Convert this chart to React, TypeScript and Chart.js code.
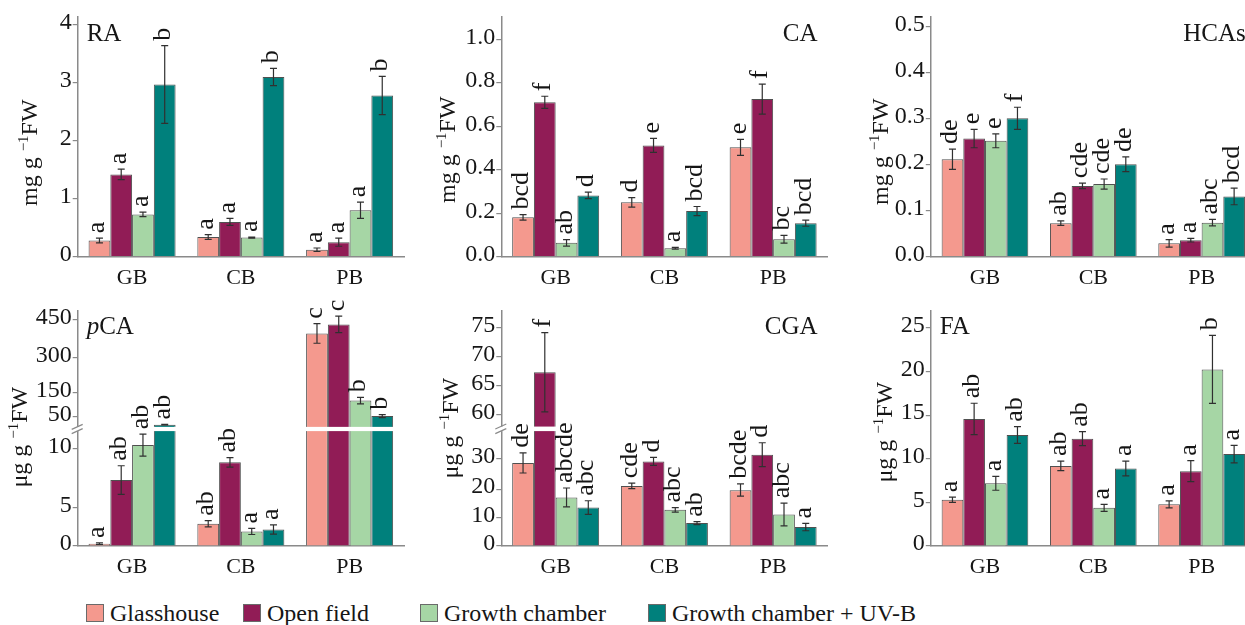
import React, { useEffect, useRef } from 'react';
import { Chart, registerables, LinearScale } from 'chart.js';

Chart.register(...registerables);

// Linear scale whose value->position mapping is piecewise linear (used for broken axes)
class BrokenLinearScale extends LinearScale {
  knots(): [number[], number[]] {
    const o: any = this.options;
    return [o.knotValues, o.knotFractions];
  }
  getPixelForValue(value: number) {
    if (value === null || value === undefined || isNaN(value)) return NaN;
    const [kv, kf] = this.knots();
    let i = 0;
    while (i < kv.length - 2 && value > kv[i + 1]) i++;
    const t = (value - kv[i]) / (kv[i + 1] - kv[i]);
    return this.getPixelForDecimal(kf[i] + t * (kf[i + 1] - kf[i]));
  }
  getValueForPixel(pixel: number) {
    const [kv, kf] = this.knots();
    const d = this.getDecimalForPixel(pixel);
    let i = 0;
    while (i < kf.length - 2 && d > kf[i + 1]) i++;
    const t = (d - kf[i]) / (kf[i + 1] - kf[i]);
    return kv[i] + t * (kv[i + 1] - kv[i]);
  }
}
(BrokenLinearScale as any).id = 'brokenLinear';
(BrokenLinearScale as any).defaults = {};
Chart.register(BrokenLinearScale as any);

const FONT = "'Liberation Serif', 'Times New Roman', Times, serif";
const AXIS = '#8a8a8a';
const INK = '#161616';

// ---------- data ----------
const categories = ['GB', 'CB', 'PB'];
const seriesNames = ['Glasshouse', 'Open field', 'Growth chamber', 'Growth chamber + UV-B'];
const seriesColors = ['#F4998E', '#911C56', '#A6D6A5', '#00807C'];

// RA (mg g-1 FW) — rows: Glasshouse, Open field, Growth chamber, Growth chamber + UV-B; columns: GB, CB, PB
const raMeans = [[0.28, 0.34, 0.12], [1.42, 0.60, 0.25], [0.73, 0.33, 0.80], [2.97, 3.10, 2.78]];
const raErrors = [[0.04, 0.04, 0.03], [0.09, 0.06, 0.07], [0.04, 0.01, 0.14], [0.67, 0.15, 0.33]];
const raLetters = [['a', 'a', 'a'], ['a', 'a', 'a'], ['a', 'a', 'a'], ['b', 'b', 'b']];
const raTicks = [0, 1, 2, 3, 4];

// CA (mg g-1 FW)
const caMeans = [[0.181, 0.25, 0.503], [0.71, 0.512, 0.725], [0.064, 0.039, 0.08], [0.282, 0.21, 0.154]];
const caErrors = [[0.013, 0.022, 0.037], [0.028, 0.032, 0.069], [0.015, 0.004, 0.018], [0.015, 0.021, 0.014]];
const caLetters = [['bcd', 'd', 'e'], ['f', 'e', 'f'], ['ab', 'a', 'bc'], ['d', 'bcd', 'bcd']];
const caTicks = [0, 0.2, 0.4, 0.6, 0.8, 1.0];

// HCAs (mg g-1 FW)
const hcaMeans = [[0.212, 0.073, 0.029], [0.257, 0.154, 0.036], [0.252, 0.158, 0.074], [0.301, 0.201, 0.131]];
const hcaErrors = [[0.022, 0.005, 0.008], [0.020, 0.006, 0.004], [0.015, 0.011, 0.007], [0.024, 0.016, 0.018]];
const hcaLetters = [['de', 'ab', 'a'], ['e', 'cde', 'a'], ['e', 'cde', 'abc'], ['f', 'de', 'bcd']];
const hcaTicks = [0, 0.1, 0.2, 0.3, 0.4, 0.5];

// pCA (µg g-1 FW)
const pcaMeans = [[0.3, 2.92, 395], [7.33, 8.82, 430], [10.28, 1.91, 118], [20, 2.17, 51]];
const pcaErrors = [[0.1, 0.4, 38], [1.2, 0.4, 32], [0.95, 0.4, 14], [1, 0.6, 6]];
const pcaLetters = [['a', 'ab', 'c'], ['ab', 'ab', 'c'], ['ab', 'a', 'b'], ['ab', 'a', 'b']];
const pcaTicks = [0, 5, 10, 50, 150, 300, 450];

// CGA (µg g-1 FW)
const cgaMeans = [[28.6, 21.06, 19.65], [67.3, 29.1, 31.3], [17.1, 12.76, 11.1], [13.55, 8.1, 6.7]];
const cgaErrors = [[3.3, 0.9, 2.1], [6.8, 1.3, 3.9], [3.3, 0.8, 4.0], [2.4, 0.5, 1.3]];
const cgaLetters = [['de', 'cde', 'bcde'], ['f', 'd', 'd'], ['abcde', 'abc', 'abc'], ['abc', 'ab', 'a']];
const cgaTicks = [0, 10, 20, 30, 60, 65, 70, 75];

// FA (µg g-1 FW)
const faMeans = [[5.3, 9.18, 4.78], [14.56, 12.3, 8.58], [7.19, 4.37, 20.24], [12.72, 8.88, 10.53]];
const faErrors = [[0.3, 0.55, 0.4], [1.8, 0.8, 1.2], [0.8, 0.4, 3.9], [0.95, 0.85, 1.0]];
const faLetters = [['a', 'ab', 'a'], ['ab', 'ab', 'a'], ['a', 'a', 'b'], ['ab', 'a', 'a']];
const faTicks = [0, 5, 10, 15, 20, 25];

// ---------- layout ----------
const COLS = [
  { left: 0, width: 415, yWidth: 77.7, padRight: 11 },
  { left: 415, width: 420, yWidth: 86.3, padRight: 7.5 },
  { left: 835, width: 430, yWidth: 95.8, padRight: 9.2 },
];
const ROWS = [
  { top: 0, height: 295, padTop: 16.7, xHeight: 38.3 },
  { top: 295, height: 300, padTop: 11.7, xHeight: 49 },
];
const LEGEND_LEFT = [86, 243, 420, 648];

type TitlePart = { text: string; italic?: boolean };
type Panel = {
  key: string;
  col: number;
  row: number;
  title: TitlePart[];
  titleAlign: 'left' | 'right';
  unitPrefix: string;
  means: number[][];
  errors: number[][];
  letters: string[][];
  ticks: number[];
  digits: number;
  max: number;
  knotValues?: number[];
  knotFractions?: number[];
  breakAt?: [number, number];
  yTitleDx: number;
  yTitleDy: number;
};

const panels: Panel[] = [
  { key: 'RA', col: 0, row: 0, title: [{ text: 'RA' }], titleAlign: 'left', unitPrefix: 'mg g ',
    means: raMeans, errors: raErrors, letters: raLetters, ticks: raTicks, digits: 0, max: 4.14,
    yTitleDx: -41, yTitleDy: 16 },
  { key: 'CA', col: 1, row: 0, title: [{ text: 'CA' }], titleAlign: 'right', unitPrefix: 'mg g ',
    means: caMeans, errors: caErrors, letters: caLetters, ticks: caTicks, digits: 1, max: 1.104,
    yTitleDx: -46, yTitleDy: 13 },
  { key: 'HCAs', col: 2, row: 0, title: [{ text: 'HCAs' }], titleAlign: 'right', unitPrefix: 'mg g ',
    means: hcaMeans, errors: hcaErrors, letters: hcaLetters, ticks: hcaTicks, digits: 1, max: 0.522,
    yTitleDx: -42.5, yTitleDy: 15 },
  { key: 'pCA', col: 0, row: 1, title: [{ text: 'p', italic: true }, { text: 'CA' }], titleAlign: 'left', unitPrefix: 'μg g ',
    means: pcaMeans, errors: pcaErrors, letters: pcaLetters, ticks: pcaTicks, digits: 0, max: 484,
    knotValues: [0, 5, 10, 11.5, 12, 50, 150, 300, 450, 484],
    knotFractions: [0, 0.1617, 0.415, 0.4877, 0.5056, 0.5504, 0.649, 0.7982, 0.9624, 1],
    breakAt: [11.5, 12], yTitleDx: -51, yTitleDy: 9 },
  { key: 'CGA', col: 1, row: 1, title: [{ text: 'CGA' }], titleAlign: 'right', unitPrefix: 'μg g ',
    means: cgaMeans, errors: cgaErrors, letters: cgaLetters, ticks: cgaTicks, digits: 0, max: 78,
    knotValues: [0, 10, 20, 30, 39, 58, 60, 65, 70, 75, 78],
    knotFractions: [0, 0.1199, 0.2411, 0.3707, 0.4877, 0.5069, 0.557, 0.6799, 0.8053, 0.9277, 1],
    breakAt: [39, 58], yTitleDx: -43, yTitleDy: 0 },
  { key: 'FA', col: 2, row: 1, title: [{ text: 'FA' }], titleAlign: 'left', unitPrefix: 'μg g ',
    means: faMeans, errors: faErrors, letters: faLetters, ticks: faTicks, digits: 0, max: 27,
    yTitleDx: -38.5, yTitleDy: 4 },
];

function makeDecor(p: Panel) {
  return {
    id: 'decor' + p.key,
    afterDatasetsDraw(chart: any) {
      const ctx: CanvasRenderingContext2D = chart.ctx;
      const area = chart.chartArea;
      const ys = chart.scales.y;
      ctx.save();
      // error bars
      const errTops: number[][] = [];
      chart.data.datasets.forEach((ds: any, di: number) => {
        const meta = chart.getDatasetMeta(di);
        errTops[di] = [];
        meta.data.forEach((bar: any, i: number) => {
          const v = ds.data[i];
          const e = p.errors[di][i];
          const yt = ys.getPixelForValue(v + e);
          const yb = ys.getPixelForValue(Math.max(0, v - e));
          errTops[di][i] = Math.min(yt, bar.y);
          ctx.strokeStyle = '#303030';
          ctx.lineWidth = 1.2;
          ctx.beginPath();
          ctx.moveTo(bar.x, yt);
          ctx.lineTo(bar.x, yb);
          ctx.moveTo(bar.x - 3.5, yt);
          ctx.lineTo(bar.x + 3.5, yt);
          ctx.moveTo(bar.x - 3.5, yb);
          ctx.lineTo(bar.x + 3.5, yb);
          ctx.stroke();
        });
      });
      // axis break
      if (p.breakAt) {
        const pLow = ys.getPixelForValue(p.breakAt[0]);
        const pHigh = ys.getPixelForValue(p.breakAt[1]);
        ctx.fillStyle = '#ffffff';
        ctx.fillRect(area.left - 3, pHigh, area.right - area.left + 3, pLow - pHigh);
        ctx.strokeStyle = AXIS;
        ctx.lineWidth = 1.2;
        ctx.beginPath();
        for (const py of [pHigh, pLow]) {
          ctx.moveTo(area.left - 6, py + 2.5);
          ctx.lineTo(area.left + 5, py - 2.5);
        }
        ctx.stroke();
      }
      // significance letters
      ctx.fillStyle = INK;
      ctx.font = `26px ${FONT}`;
      ctx.textAlign = 'left';
      ctx.textBaseline = 'alphabetic';
      chart.data.datasets.forEach((ds: any, di: number) => {
        const meta = chart.getDatasetMeta(di);
        meta.data.forEach((bar: any, i: number) => {
          ctx.save();
          ctx.translate(bar.x + 5, errTops[di][i] - 5);
          ctx.rotate(-Math.PI / 2);
          ctx.fillText(p.letters[di][i], 0, 0);
          ctx.restore();
        });
      });
      // panel title
      ctx.textBaseline = 'alphabetic';
      const fonts = p.title.map((t) => `${t.italic ? 'italic ' : ''}25px ${FONT}`);
      const widths = p.title.map((t, k) => {
        ctx.font = fonts[k];
        return ctx.measureText(t.text).width;
      });
      const total = widths.reduce((a, b) => a + b, 0);
      let tx = p.titleAlign === 'left' ? area.left + 9 : area.right - 10 - total;
      const ty = area.top + 24;
      p.title.forEach((t, k) => {
        ctx.font = fonts[k];
        ctx.fillText(t.text, tx, ty);
        tx += widths[k];
      });
      // y-axis title with superscript
      const main = `24px ${FONT}`;
      const sup = `15px ${FONT}`;
      const s1 = p.unitPrefix, s2 = '\u22121', s3 = 'FW';
      ctx.font = main;
      const w1 = ctx.measureText(s1).width;
      const w3 = ctx.measureText(s3).width;
      ctx.font = sup;
      const w2 = ctx.measureText(s2).width;
      ctx.save();
      ctx.translate(area.left + p.yTitleDx, (area.top + area.bottom) / 2 + p.yTitleDy);
      ctx.rotate(-Math.PI / 2);
      let x = -(w1 + w2 + w3) / 2;
      ctx.font = main;
      ctx.fillText(s1, x, 0);
      x += w1;
      ctx.font = sup;
      ctx.fillText(s2, x, -9);
      x += w2;
      ctx.font = main;
      ctx.fillText(s3, x, 0);
      ctx.restore();
      ctx.restore();
    },
  };
}

function buildConfig(p: Panel): any {
  const col = COLS[p.col];
  const row = ROWS[p.row];
  const datasets = seriesNames.map((name, di) => ({
    label: name,
    data: p.means[di],
    backgroundColor: seriesColors[di],
    borderColor: '#505050',
    borderWidth: 1,
    categoryPercentage: 0.8,
    barPercentage: 1.0,
  }));
  const yScale: any = {
    type: p.knotValues ? 'brokenLinear' : 'linear',
    min: 0,
    max: p.max,
    grid: { display: true, drawOnChartArea: false, drawTicks: true, tickLength: 5, color: AXIS, lineWidth: 1.2 },
    border: { display: true, color: AXIS, width: 1.5 },
    ticks: {
      font: { family: FONT, size: 24 },
      color: INK,
      padding: 1,
      labelOffset: -2,
      callback: (v: number) => v.toFixed(p.digits),
    },
    afterBuildTicks: (s: any) => {
      s.ticks = p.ticks.map((v) => ({ value: v }));
    },
    afterFit: (s: any) => {
      s.width = col.yWidth;
    },
  };
  if (p.knotValues) {
    yScale.knotValues = p.knotValues;
    yScale.knotFractions = p.knotFractions;
  }
  return {
    type: 'bar',
    data: { labels: categories, datasets },
    options: {
      responsive: false,
      animation: false,
      devicePixelRatio: 1,
      layout: { padding: { left: 0, top: row.padTop, right: col.padRight, bottom: 0 } },
      plugins: { legend: { display: false }, tooltip: { enabled: false } },
      scales: {
        x: {
          type: 'category',
          offset: true,
          grid: { display: false },
          border: { display: true, color: AXIS, width: 1.5 },
          ticks: { font: { family: FONT, size: 22 }, color: INK, padding: 0 },
          afterFit: (s: any) => {
            s.height = row.xHeight;
          },
        },
        y: yScale,
      },
    },
    plugins: [makeDecor(p)],
  };
}

function PanelChart({ panel }: { panel: Panel }) {
  const ref = useRef<HTMLCanvasElement>(null);
  const col = COLS[panel.col];
  const row = ROWS[panel.row];
  useEffect(() => {
    if (!ref.current) return;
    const chart = new Chart(ref.current, buildConfig(panel));
    return () => chart.destroy();
  }, [panel]);
  return (
    <canvas
      ref={ref}
      width={col.width}
      height={row.height}
      style={{ position: 'absolute', left: col.left, top: row.top, width: col.width, height: row.height }}
    />
  );
}

export default function App() {
  return (
    <div
      style={{
        position: 'fixed',
        left: 0,
        top: 0,
        width: 1245,
        height: 625,
        overflow: 'hidden',
        background: '#ffffff',
      }}
    >
      {panels.map((p) => (
        <PanelChart key={p.key} panel={p} />
      ))}
      {seriesNames.map((name, i) => (
        <div
          key={name}
          style={{ position: 'absolute', left: LEGEND_LEFT[i], top: 603, height: 20, display: 'flex', alignItems: 'center', whiteSpace: 'nowrap' }}
        >
          <span
            style={{ display: 'inline-block', width: 18, height: 18, boxSizing: 'border-box', background: seriesColors[i], border: '1px solid #6a6a6a' }}
          />
          <span style={{ marginLeft: 6, font: `24px ${FONT}`, color: INK, lineHeight: '20px' }}>{name}</span>
        </div>
      ))}
    </div>
  );
}
